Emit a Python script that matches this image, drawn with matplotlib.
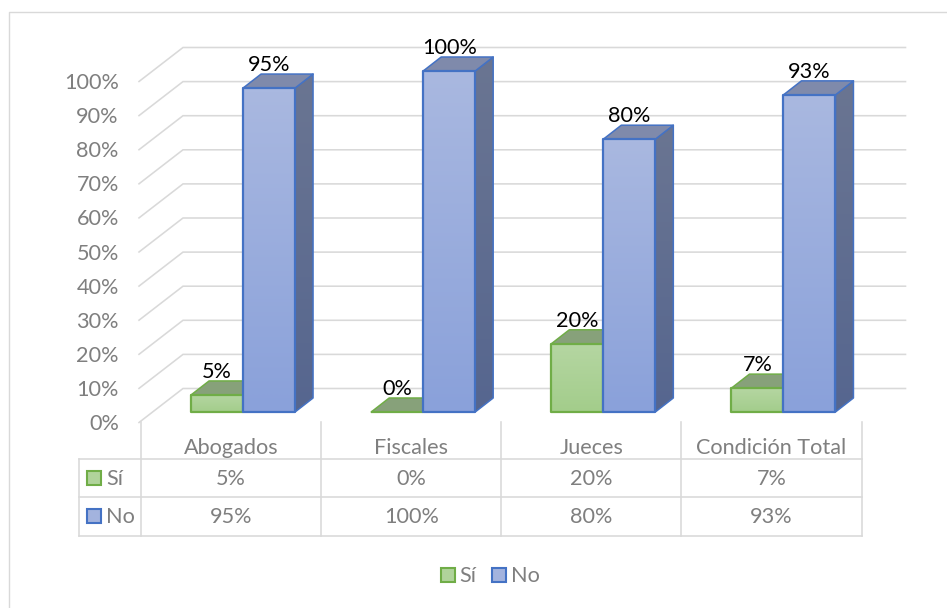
import numpy as np
import matplotlib
matplotlib.use("Agg")
import matplotlib.pyplot as plt
from matplotlib.patches import Polygon, Patch, Rectangle
from matplotlib.colors import LinearSegmentedColormap

plt.rcParams['font.family'] = ['Lato', 'DejaVu Sans']

categories = ["Abogados", "Fiscales", "Jueces", "Condición Total"]
si_values = [5, 0, 20, 7]
no_values = [95, 100, 80, 93]
y_ticks = [0, 10, 20, 30, 40, 50, 60, 70, 80, 90, 100]

W, H = 947, 608
GRID = "#D9D9D9"
TXT = "#7F7F7F"
FS = 15.6

fig = plt.figure(figsize=(W / 100, H / 100), dpi=100, facecolor="white")
AX_L, AX_R, AX_T, AX_B = 141.0, 861.5, 81.0, 422.0
ax = fig.add_axes([AX_L / W, 1 - AX_B / H, (AX_R - AX_L) / W, (AX_B - AX_T) / H])
ax.set_xlim(0, len(categories))
ax.set_ylim(0, 100)
for s in ax.spines.values():
    s.set_visible(False)
ax.patch.set_visible(False)
ax.set_xticks([])
ax.set_yticks(y_ticks, [f"{v}%" for v in y_ticks], fontsize=FS, color=TXT)
ax.tick_params(axis="y", length=0, pad=16)

def px(dx):
    return dx * len(categories) / (AX_R - AX_L)
def py(dy):
    return dy * 100 / (AX_B - AX_T)

# chart frame (only left and top edges fall within the picture)
fig.add_artist(plt.Line2D([8.5 / W, 8.5 / W, 1], [0, 1 - 11.5 / H, 1 - 11.5 / H],
                          color=GRID, lw=1.0, transform=fig.transFigure))

# gridlines: floor/side-wall segment + back wall segment
WX, WY = px(42), py(33.5)
for v in y_ticks:
    ax.plot([px(-2), WX, len(categories) + px(44)], [v - py(0.5), v + WY, v + WY],
            color=GRID, lw=1.15, clip_on=False, zorder=1, solid_joinstyle="miter")

def grad_poly(verts, c_top, c_bot, z):
    verts = np.array(verts)
    cmap = LinearSegmentedColormap.from_list("g", [c_top, c_bot])
    im = ax.imshow(np.linspace(0, 1, 64)[:, None], cmap=cmap, aspect="auto",
                   extent=[verts[:, 0].min(), verts[:, 0].max(), verts[:, 1].min(), verts[:, 1].max()],
                   origin="upper", zorder=z, interpolation="bilinear")
    im.set_clip_box(fig.bbox)
    clip = Polygon(verts, closed=True, transform=ax.transData)
    im.set_clip_path(clip)

BW = px(52)
FX, FY = px(12), py(10)    # front face offset from the table plane
DX, DY = px(18), py(14)    # bar depth

def bar3d(left, value, st, z):
    x0, x1 = left + FX, left + BW + FX
    y0, y1 = FY, value + FY
    # side face
    grad_poly([(x1, y0), (x1 + DX, y0 + DY), (x1 + DX, y1 + DY), (x1, y1)], st["side_t"], st["side_b"], z)
    ax.add_patch(Polygon([(x1, y0), (x1 + DX, y0 + DY), (x1 + DX, y1 + DY), (x1, y1)], closed=True,
                         fc="none", ec=st["edge"], lw=1.1, zorder=z + 0.1, clip_on=False, joinstyle="round"))
    # top face
    ax.add_patch(Polygon([(x0, y1), (x0 + DX, y1 + DY), (x1 + DX, y1 + DY), (x1, y1)], closed=True,
                         fc=st["top"], ec=st["edge"], lw=1.1, zorder=z + 0.1, clip_on=False, joinstyle="round"))
    # front face
    if value > 0:
        grad_poly([(x0, y0), (x1, y0), (x1, y1), (x0, y1)], st["front_t"], st["front_b"], z + 0.2)
    ax.add_patch(Polygon([(x0, y0), (x1, y0), (x1, y1), (x0, y1)], closed=True,
                         fc="none", ec=st["edge"], lw=1.6, zorder=z + 0.3, clip_on=False, joinstyle="round"))

GREEN = dict(edge="#70AD47", front_t="#B5D6A2", front_b="#A3CD8B", side_t="#7F9A6C", side_b="#7A9A64", top="#87A17A")
BLUE = dict(edge="#4472C4", front_t="#A9B8E0", front_b="#8AA1DA", side_t="#6A7592", side_b="#56668F", top="#7F8AAB")

x_pos = np.arange(len(categories))
for i, (s, n) in enumerate(zip(si_values, no_values)):
    c = x_pos[i] + 0.5
    bar3d(c - BW, s, GREEN, 3)
    bar3d(c, n, BLUE, 4)
    ax.annotate(f"{s}%", (c - BW / 2 + FX, s + FY), xytext=(0, 23 * 0.72), textcoords="offset points",
                ha="center", va="center", fontsize=FS, color="black", zorder=6, annotation_clip=False)
    ax.annotate(f"{n}%", (c + BW / 2 + FX, n + FY), xytext=(0, 23 * 0.72), textcoords="offset points",
                ha="center", va="center", fontsize=FS, color="black", zorder=6, annotation_clip=False)

# data table
def yt(pix):
    return (AX_B - pix) * 100 / (AX_B - AX_T)
ROW = [yt(459), yt(497), yt(536)]
X_KEY = px(79 - AX_L)
N = len(categories)
for r in ROW:
    ax.plot([X_KEY, N], [r, r], color=GRID, lw=1.15, clip_on=False, zorder=1, solid_capstyle="projecting")
for i in range(N + 1):
    ax.plot([i, i], [yt(422), ROW[2]], color=GRID, lw=1.15, clip_on=False, zorder=1)
ax.plot([X_KEY, X_KEY], [ROW[0], ROW[2]], color=GRID, lw=1.15, clip_on=False, zorder=1, solid_capstyle="projecting")

for i, name in enumerate(categories):
    c = x_pos[i] + 0.5
    ax.text(c, yt(448), name, ha="center", va="center", fontsize=FS, color=TXT, clip_on=False)
    ax.text(c, yt(478.7), f"{si_values[i]}%", ha="center", va="center", fontsize=FS, color=TXT, clip_on=False)
    ax.text(c, yt(516.7), f"{no_values[i]}%", ha="center", va="center", fontsize=FS, color=TXT, clip_on=False)

KEY_S = "#B0D39B"
KEY_N = "#A3B3DE"
for row_y, name, fc, ec in [(478, "Sí", KEY_S, GREEN["edge"]), (516, "No", KEY_N, BLUE["edge"])]:
    ax.add_patch(Rectangle((px(86.5 - AX_L), yt(row_y + 7)), px(14), py(14), fc=fc, ec=ec, lw=1.5, clip_on=False, zorder=3))
    ax.text(px(106 - AX_L), yt(row_y + 0.7), name, ha="left", va="center", fontsize=FS, color=TXT, clip_on=False)

handles = [Patch(fc=KEY_S, ec=GREEN["edge"], lw=1.5, label="Sí"),
           Patch(fc=KEY_N, ec=BLUE["edge"], lw=1.5, label="No")]
fig.legend(handles=handles, loc="center", bbox_to_anchor=(490 / W, 1 - 576.5 / H), ncol=2, frameon=False,
           fontsize=FS, labelcolor=TXT, handlelength=0.65, handleheight=0.65, handletextpad=0.22,
           columnspacing=0.71, borderpad=0)

ax.set_xlim(0, len(categories))
ax.set_ylim(0, 100)
fig.savefig("out.png", dpi=100, facecolor="white")
